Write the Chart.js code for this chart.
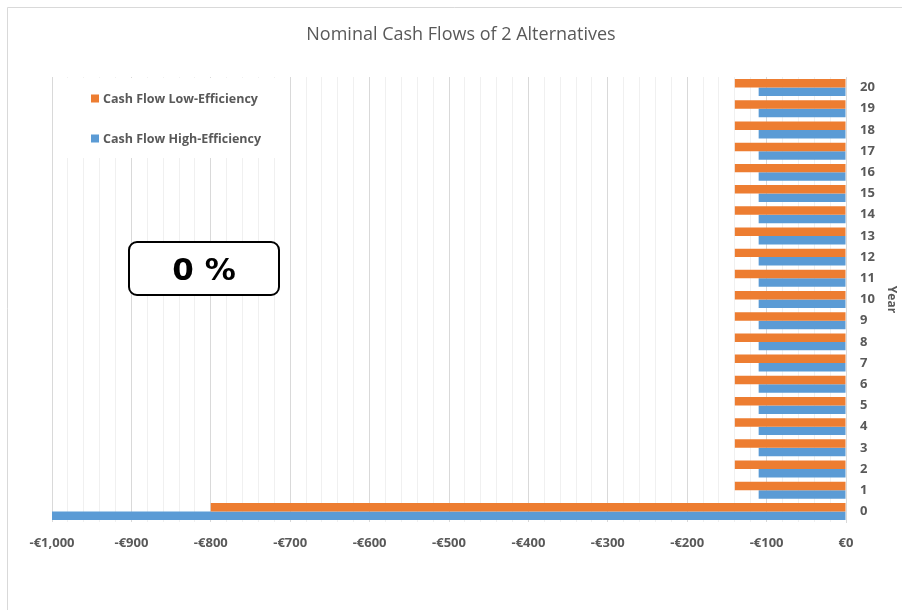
<!DOCTYPE html>
<html>
<head>
<meta charset="utf-8">
<script src="https://cdn.jsdelivr.net/npm/chart.js@4.4.1/dist/chart.umd.min.js"></script>
<style>
  html, body { margin: 0; padding: 0; background: #fff; }
  canvas { display: block; }
</style>
</head>
<body>
<canvas id="chart" width="902" height="610"></canvas>
<script>
// Years of the project horizon
const years = [0, 1, 2, 3, 4, 5, 6, 7, 8, 9, 10, 11, 12, 13, 14, 15, 16, 17, 18, 19, 20];
// Nominal cash flow per year (euros)
const lowEfficiency  = [-800, -140, -140, -140, -140, -140, -140, -140, -140, -140, -140,
                        -140, -140, -140, -140, -140, -140, -140, -140, -140, -140];
const highEfficiency = [-1000, -110, -110, -110, -110, -110, -110, -110, -110, -110, -110,
                        -110, -110, -110, -110, -110, -110, -110, -110, -110, -110];
const seriesNames = ['Cash Flow Low-Efficiency', 'Cash Flow High-Efficiency'];
const seriesColors = ['#ED7D31', '#5B9BD5'];
const xTickLabels = ['-€1,000', '-€900', '-€800', '-€700', '-€600', '-€500',
                     '-€400', '-€300', '-€200', '-€100', '€0'];
const chartTitle = 'Nominal Cash Flows of 2 Alternatives';
const rateLabel = '0 %';

const TEXT = '#595959';
const FONT = '"Open Sans", "Noto Sans", sans-serif';

const decorations = {
  id: 'decorations',
  beforeDraw(chart) {
    const ctx = chart.ctx;
    ctx.save();
    ctx.fillStyle = '#ffffff';
    ctx.fillRect(0, 0, chart.width, chart.height);
    // outer frame
    ctx.strokeStyle = '#d9d9d9';
    ctx.lineWidth = 1;
    ctx.beginPath();
    ctx.moveTo(7.5, chart.height);
    ctx.lineTo(7.5, 7.5);
    ctx.lineTo(chart.width, 7.5);
    ctx.stroke();
    // title
    ctx.fillStyle = TEXT;
    ctx.font = '18px ' + FONT;
    ctx.textAlign = 'center';
    ctx.textBaseline = 'alphabetic';
    ctx.fillText(chartTitle, 461, 40);
    ctx.restore();
  },
  afterDraw(chart) {
    const ctx = chart.ctx;
    ctx.save();
    // legend panel inside the plot
    ctx.fillStyle = '#ffffff';
    ctx.fillRect(55, 78, 230, 80);
    ctx.font = 'bold 12.5px ' + FONT;
    ctx.textBaseline = 'middle';
    ctx.textAlign = 'left';
    const rows = [98.5, 138.5];
    seriesNames.forEach((name, i) => {
      ctx.fillStyle = seriesColors[i];
      ctx.fillRect(91, rows[i] - 4, 8, 8);
      ctx.fillStyle = TEXT;
      ctx.fillText(name, 103, rows[i] + 0.5);
    });
    // discount-rate box
    ctx.beginPath();
    ctx.roundRect(129, 242, 150, 53, 8);
    ctx.fillStyle = '#ffffff';
    ctx.fill();
    ctx.lineWidth = 2;
    ctx.strokeStyle = '#000000';
    ctx.stroke();
    ctx.fillStyle = '#000000';
    ctx.font = 'bold 31px "DejaVu Sans", sans-serif';
    ctx.textAlign = 'center';
    ctx.textBaseline = 'alphabetic';
    ctx.fillText(rateLabel, 204, 280);
    ctx.restore();
  }
};

new Chart(document.getElementById('chart'), {
  type: 'bar',
  data: {
    labels: years.map(String),
    datasets: [
      { label: seriesNames[0], data: lowEfficiency, backgroundColor: seriesColors[0], borderWidth: 0 },
      { label: seriesNames[1], data: highEfficiency, backgroundColor: seriesColors[1], borderWidth: 0 }
    ]
  },
  options: {
    indexAxis: 'y',
    responsive: false,
    animation: false,
    devicePixelRatio: 1,
    categoryPercentage: 0.8,
    barPercentage: 1.0,
    layout: { padding: { left: 52, top: 77, right: 0, bottom: 0 } },
    plugins: { legend: { display: false }, tooltip: { enabled: false }, title: { display: false } },
    scales: {
      x: {
        type: 'linear',
        position: 'bottom',
        min: -1000,
        max: 0,
        ticks: {
          stepSize: 20,
          autoSkip: false,
          maxRotation: 0,
          padding: 13,
          color: TEXT,
          font: { family: FONT, size: 13, weight: 'bold' },
          callback: v => {
            const r = Math.round(v);
            return r % 100 === 0 ? xTickLabels[(r + 1000) / 100] : '';
          }
        },
        grid: {
          drawTicks: false,
          lineWidth: 1,
          color: c => (c.tick && Math.round(c.tick.value) % 100 === 0) ? '#d9d9d9' : '#f0f0f0'
        },
        border: { display: false },
        afterFit: s => { s.height = 88; }
      },
      y: {
        type: 'category',
        position: 'right',
        reverse: true,
        grid: { display: false, drawTicks: false },
        border: { display: true, color: '#d9d9d9' },
        ticks: { padding: 14, color: TEXT, font: { family: FONT, size: 13, weight: 'bold' } },
        title: {
          display: true,
          text: 'Year',
          color: TEXT,
          font: { family: FONT, size: 12, weight: 'bold' },
          padding: { top: 3, bottom: 4 }
        },
        afterFit: s => { s.width = 56; }
      }
    }
  },
  plugins: [decorations]
});
</script>
</body>
</html>
